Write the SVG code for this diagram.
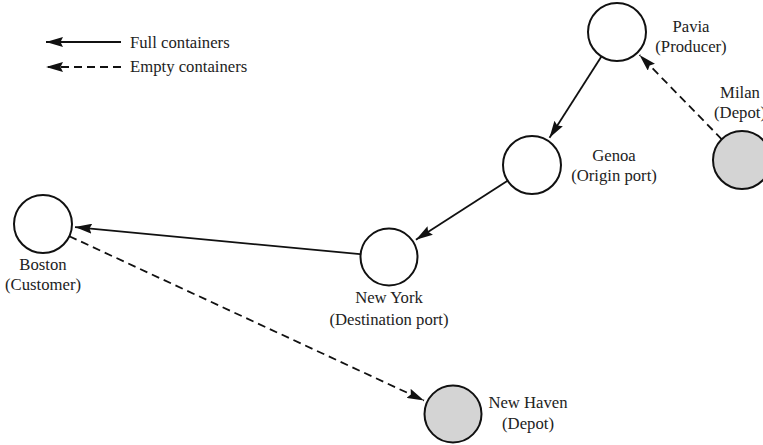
<svg xmlns="http://www.w3.org/2000/svg" width="763" height="445" viewBox="0 0 763 445">
  <defs>
    <marker id="arr" markerUnits="userSpaceOnUse" viewBox="0 0 17 10" markerWidth="17" markerHeight="10" refX="17" refY="5" orient="auto">
      <path d="M0,0 L17,5 L0,10 L2.5,5 Z" fill="#111"/>
    </marker>
    <style>
      .node { stroke: #111; stroke-width: 2; }
      .plain { fill: #fff; }
      .depot { fill: #d4d4d4; }
      .lbl { font-family: "Liberation Serif", "Times New Roman", serif; font-size: 16.7px; fill: #222; text-anchor: middle; }
      .leg { font-family: "Liberation Serif", "Times New Roman", serif; font-size: 16.7px; fill: #222; }
      .full { stroke: #111; stroke-width: 1.8; fill: none; marker-end: url(#arr); }
      .empty { stroke: #111; stroke-width: 1.8; fill: none; stroke-dasharray: 8 5; marker-end: url(#arr); }
    </style>
  </defs>
  <rect width="763" height="445" fill="#fff"/>

  <g id="legend">
    <line class="full" x1="121" y1="42" x2="46" y2="42"/>
    <text class="leg" x="130" y="48">Full containers</text>
    <line class="empty" x1="121" y1="67" x2="46" y2="67"/>
    <text class="leg" x="130" y="72">Empty containers</text>
  </g>

  <g id="connectors">
    <line class="full" x1="601.4" y1="56.4" x2="549.5" y2="137.8"/>
    <line class="full" x1="507.6" y1="180.7" x2="415.9" y2="239.7"/>
    <line class="full" x1="360.1" y1="254.2" x2="75" y2="227.1"/>
    <line class="empty" x1="69.3" y1="236.2" x2="424" y2="400.5"/>
    <line class="empty" x1="721.8" y1="139.3" x2="639.5" y2="55"/>
  </g>

  <g id="pavia">
    <circle class="node plain" cx="617" cy="32" r="29"/>
    <text class="lbl" x="691" y="32">Pavia</text>
    <text class="lbl" x="691" y="52">(Producer)</text>
  </g>
  <g id="milan">
    <circle class="node depot" cx="742" cy="160" r="29"/>
    <text class="lbl" x="740" y="98">Milan</text>
    <text class="lbl" x="740" y="118">(Depot)</text>
  </g>
  <g id="genoa">
    <circle class="node plain" cx="532" cy="165" r="29"/>
    <text class="lbl" x="614" y="161">Genoa</text>
    <text class="lbl" x="614" y="181">(Origin port)</text>
  </g>
  <g id="new-york">
    <circle class="node plain" cx="389" cy="257" r="28.5"/>
    <text class="lbl" x="389" y="303">New York</text>
    <text class="lbl" x="389" y="325">(Destination port)</text>
  </g>
  <g id="boston">
    <circle class="node plain" cx="43" cy="224" r="29"/>
    <text class="lbl" x="43" y="270">Boston</text>
    <text class="lbl" x="43" y="290">(Customer)</text>
  </g>
  <g id="new-haven">
    <circle class="node depot" cx="453" cy="414" r="28.5"/>
    <text class="lbl" x="528" y="408">New Haven</text>
    <text class="lbl" x="528" y="429">(Depot)</text>
  </g>
</svg>
